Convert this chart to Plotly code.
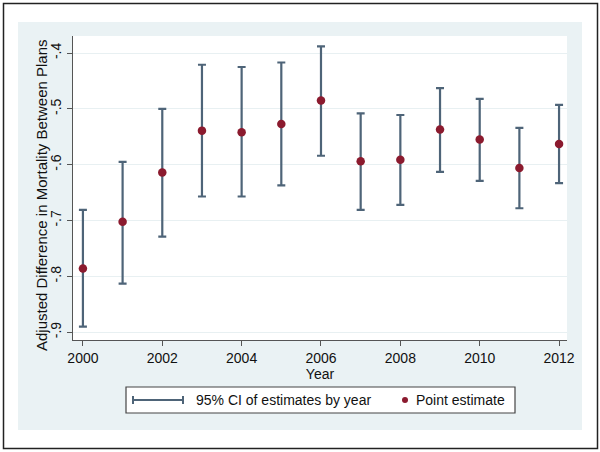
import plotly.graph_objects as go

years = [2000, 2001, 2002, 2003, 2004, 2005, 2006, 2007, 2008, 2009, 2010, 2011, 2012]
point_est = [-0.786, -0.702, -0.614, -0.539, -0.542, -0.527, -0.485, -0.594, -0.591, -0.537, -0.555, -0.606, -0.563]
ci_upper = [-0.681, -0.595, -0.500, -0.421, -0.425, -0.417, -0.388, -0.508, -0.511, -0.463, -0.482, -0.534, -0.493]
ci_lower = [-0.890, -0.813, -0.729, -0.657, -0.657, -0.637, -0.584, -0.681, -0.672, -0.613, -0.629, -0.678, -0.633]

y_tickvals = [-0.4, -0.5, -0.6, -0.7, -0.8, -0.9]
y_ticktext = ["-.4", "-.5", "-.6", "-.7", "-.8", "-.9"]
x_tickvals = [2000, 2002, 2004, 2006, 2008, 2010, 2012]

ci_color = "#4e6478"
pt_color = "#8b1a2e"
bg_blue = "#eaf2f4"
font_fam = "Liberation Sans, Arial, sans-serif"

W, H = 600, 452
L, T = 73, 36
R = W - 567
B = H - 340
pw, ph = W - L - R, H - T - B

def px(x):
    return (x - L) / pw

def py(y):
    return (H - B - y) / ph

fig = go.Figure()

fig.add_trace(go.Scatter(
    x=years, y=point_est, mode="markers",
    marker=dict(size=8, color=pt_color, opacity=0),
    error_y=dict(type="data", symmetric=False,
                 array=[u - p for u, p in zip(ci_upper, point_est)],
                 arrayminus=[p - l for p, l in zip(point_est, ci_lower)],
                 color=ci_color, thickness=2.2, width=4),
    showlegend=False, hoverinfo="skip"))

fig.add_trace(go.Scatter(
    x=years, y=point_est, mode="markers",
    marker=dict(size=8.5, color=pt_color),
    showlegend=False))

shapes = [
    dict(type="rect", xref="paper", yref="paper", x0=px(18), x1=px(582), y0=py(430), y1=py(22),
         fillcolor=bg_blue, line=dict(width=0), layer="below"),
    dict(type="rect", xref="paper", yref="paper", x0=0, x1=1, y0=0, y1=1,
         fillcolor="white", line=dict(width=0), layer="below"),
    dict(type="rect", xref="paper", yref="paper", x0=px(3.5), x1=px(597.5), y0=py(448.5), y1=py(3.5),
         fillcolor="rgba(0,0,0,0)", line=dict(color="#222222", width=1.5)),
    # legend box
    dict(type="rect", xref="paper", yref="paper", x0=px(126), x1=px(515), y0=py(413), y1=py(387),
         fillcolor="white", line=dict(color="#444444", width=1.2)),
    dict(type="line", xref="paper", yref="paper", x0=px(133), x1=px(183), y0=py(400), y1=py(400),
         line=dict(color=ci_color, width=2)),
    dict(type="line", xref="paper", yref="paper", x0=px(133), x1=px(133), y0=py(396), y1=py(404),
         line=dict(color=ci_color, width=2)),
    dict(type="line", xref="paper", yref="paper", x0=px(183), x1=px(183), y0=py(396), y1=py(404),
         line=dict(color=ci_color, width=2)),
    dict(type="circle", xref="paper", yref="paper", x0=px(402), x1=px(408), y0=py(403), y1=py(397),
         fillcolor=pt_color, line=dict(width=0)),
]

annotations = [
    dict(text="Adjusted Difference in Mortality Between Plans", textangle=-90,
         xref="paper", yref="paper", x=px(41), y=py(195),
         xanchor="center", yanchor="middle", showarrow=False,
         font=dict(family=font_fam, size=15, color="#111111")),
    dict(text="95% CI of estimates by year", xref="paper", yref="paper", x=px(194), y=py(400),
         xanchor="left", yanchor="middle", showarrow=False,
         font=dict(family=font_fam, size=14, color="#111111")),
    dict(text="Point estimate", xref="paper", yref="paper", x=px(414), y=py(400),
         xanchor="left", yanchor="middle", showarrow=False,
         font=dict(family=font_fam, size=14, color="#111111")),
]

fig.update_layout(
    width=W, height=H,
    margin=dict(l=L, r=R, t=T, b=B, pad=0),
    paper_bgcolor="white", plot_bgcolor="white",
    font=dict(family=font_fam, size=14, color="#111111"),
    shapes=shapes, annotations=annotations,
    showlegend=False,
    xaxis=dict(range=[1999.75, 2012.2], tickvals=x_tickvals, ticks="outside", ticklen=5,
               tickcolor="#555555", showline=True, linecolor="#555555", linewidth=1.2,
               showgrid=False, zeroline=False,
               tickfont=dict(size=14),
               title=dict(text="Year", font=dict(size=14), standoff=0)),
    yaxis=dict(range=[-0.914, -0.3695], tickvals=y_tickvals, ticktext=y_ticktext,
               ticks="outside", ticklen=5, tickcolor="#555555", tickangle=-90,
               showline=True, linecolor="#555555", linewidth=1.2,
               showgrid=True, gridcolor="#e8f0f2", gridwidth=1, zeroline=False,
               tickfont=dict(size=14)),
)

fig.write_html("out.html", config={"displayModeBar": False},
               post_script="document.body.style.margin='0px';document.body.style.overflow='hidden';")
